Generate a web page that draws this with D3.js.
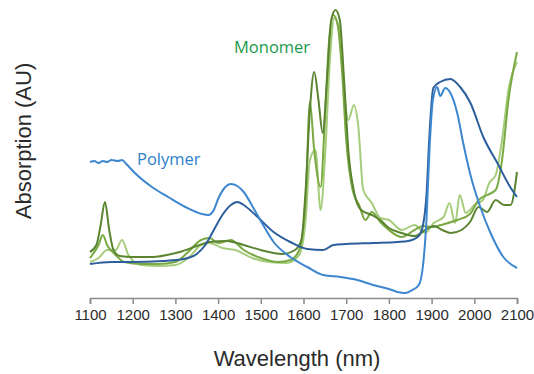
<!DOCTYPE html>
<html>
<head>
<meta charset="utf-8">
<script src="https://cdn.jsdelivr.net/npm/d3@7"></script>
<style>
  body { margin: 0; background: #fff; }
  svg { display: block; font-family: "Liberation Sans", Arial, sans-serif; }
</style>
</head>
<body>
<div id="chart"></div>
<script>
// wavelength (nm) / absorption (AU) pairs
const polymerLight = [
  [1100, 1.36], [1110, 1.37], [1120, 1.35], [1130, 1.37], [1140, 1.36], [1150, 1.38],
  [1165, 1.37], [1175, 1.38], [1185, 1.34], [1205, 1.25], [1245, 1.11], [1283, 1.01],
  [1323, 0.91], [1362, 0.84], [1377, 0.83], [1390, 0.88], [1400, 0.99], [1415, 1.10],
  [1430, 1.14], [1445, 1.12], [1460, 1.06], [1480, 0.92], [1500, 0.77], [1530, 0.56],
  [1569, 0.41], [1609, 0.31], [1646, 0.23], [1686, 0.21], [1726, 0.18], [1763, 0.13],
  [1800, 0.09], [1820, 0.06], [1838, 0.05], [1855, 0.08], [1870, 0.13], [1880, 0.33],
  [1888, 0.78], [1895, 1.48], [1903, 1.98], [1913, 2.11], [1920, 2.02], [1932, 2.10],
  [1944, 2.05], [1960, 1.85], [1974, 1.55], [1991, 1.23], [2014, 0.91], [2038, 0.65],
  [2068, 0.41], [2100, 0.30]
];
const polymerDark = [
  [1100, 0.34], [1150, 0.36], [1200, 0.36], [1270, 0.37], [1320, 0.39], [1350, 0.44],
  [1370, 0.53], [1390, 0.68], [1410, 0.83], [1430, 0.93], [1445, 0.96], [1460, 0.93],
  [1490, 0.82], [1530, 0.66], [1569, 0.56], [1609, 0.49], [1646, 0.48], [1670, 0.53],
  [1700, 0.54], [1763, 0.55], [1820, 0.56], [1845, 0.57], [1870, 0.62], [1880, 0.73],
  [1888, 1.03], [1895, 1.63], [1904, 2.10], [1920, 2.16], [1944, 2.19], [1967, 2.11],
  [1991, 1.95], [2021, 1.61], [2054, 1.35], [2084, 1.11], [2100, 1.01]
];
const monomerDark = [
  [1100, 0.46], [1115, 0.53], [1125, 0.73], [1135, 0.96], [1145, 0.68], [1155, 0.48],
  [1170, 0.42], [1200, 0.41], [1250, 0.41], [1280, 0.43], [1310, 0.46], [1350, 0.52],
  [1380, 0.56], [1420, 0.57], [1460, 0.53], [1500, 0.48], [1550, 0.44], [1580, 0.48],
  [1595, 0.58], [1605, 1.08], [1615, 1.88], [1625, 2.26], [1635, 1.98], [1645, 1.65],
  [1655, 2.18], [1665, 2.78], [1675, 2.88], [1685, 2.78], [1695, 2.18], [1705, 1.48],
  [1720, 1.03], [1735, 0.88], [1760, 0.83], [1780, 0.78], [1800, 0.70], [1830, 0.65],
  [1860, 0.62], [1885, 0.68], [1905, 0.72], [1925, 0.68], [1945, 0.65], [1970, 0.68],
  [1990, 0.76], [2010, 0.91], [2030, 0.86], [2050, 0.98], [2070, 0.93], [2085, 0.93],
  [2100, 1.26]
];
const monomerMid = [
  [1100, 0.40], [1120, 0.53], [1130, 0.63], [1140, 0.53], [1160, 0.43], [1180, 0.36],
  [1220, 0.34], [1260, 0.34], [1300, 0.36], [1330, 0.46], [1360, 0.58], [1380, 0.60],
  [1400, 0.55], [1430, 0.58], [1460, 0.48], [1500, 0.40], [1540, 0.36], [1570, 0.38],
  [1590, 0.48], [1605, 0.98], [1615, 1.96], [1625, 1.48], [1640, 1.11], [1650, 1.78],
  [1660, 2.58], [1670, 2.83], [1680, 2.73], [1690, 2.28], [1700, 1.58], [1715, 1.08],
  [1730, 0.93], [1745, 0.78], [1760, 0.86], [1780, 0.76], [1800, 0.68], [1830, 0.61],
  [1860, 0.68], [1880, 0.72], [1900, 0.71], [1930, 0.74], [1960, 0.78], [1990, 0.84],
  [2010, 0.98], [2030, 1.03], [2050, 1.08], [2065, 1.38], [2080, 1.98], [2100, 2.46]
];
const monomerLight = [
  [1100, 0.36], [1120, 0.40], [1140, 0.48], [1160, 0.48], [1175, 0.58], [1190, 0.43],
  [1220, 0.33], [1260, 0.32], [1300, 0.33], [1330, 0.40], [1360, 0.53], [1380, 0.55],
  [1410, 0.50], [1440, 0.48], [1480, 0.40], [1520, 0.36], [1560, 0.35], [1590, 0.43],
  [1605, 0.78], [1615, 1.38], [1628, 1.48], [1640, 0.88], [1650, 1.38], [1662, 2.38],
  [1672, 2.80], [1685, 2.68], [1695, 2.08], [1705, 1.78], [1718, 1.93], [1728, 1.73],
  [1740, 1.08], [1760, 0.95], [1780, 0.80], [1800, 0.78], [1830, 0.68], [1860, 0.73],
  [1885, 0.65], [1905, 0.75], [1928, 0.81], [1942, 0.95], [1955, 0.75], [1966, 1.03],
  [1980, 0.85], [2000, 0.93], [2020, 0.98], [2035, 1.15], [2050, 1.23], [2065, 1.58],
  [2080, 2.08], [2100, 2.36]
];
const xTicks = [1100, 1200, 1300, 1400, 1500, 1600, 1700, 1800, 1900, 2000, 2100];

const width = 534;
const height = 374;

const x = d3.scaleLinear().domain([1100, 2100]).range([90, 517]);
const y = d3.scaleLinear().domain([0, 2.9]).range([298, 8]);

const svg = d3.select('#chart').append('svg')
  .attr('width', width)
  .attr('height', height);

const line = d3.line()
  .x(d => x(d[0]))
  .y(d => y(d[1]))
  .curve(d3.curveMonotoneX);

const series = [
  { data: monomerLight, color: '#a6cd7c' },
  { data: monomerMid, color: '#7aa943' },
  { data: monomerDark, color: '#5a8430' },
  { data: polymerDark, color: '#2c5e9c' },
  { data: polymerLight, color: '#3d86d0' }
];

svg.selectAll('path.series')
  .data(series)
  .enter().append('path')
  .attr('class', 'series')
  .attr('fill', 'none')
  .attr('stroke', d => d.color)
  .attr('stroke-width', 2)
  .attr('stroke-linejoin', 'round')
  .attr('d', d => line(d.data));

// x axis
const xAxis = svg.append('g')
  .attr('transform', 'translate(0,' + y(0) + ')')
  .call(d3.axisBottom(x).tickValues(xTicks).tickSize(6).tickPadding(5).tickFormat(d3.format('d')));

xAxis.select('.domain').attr('stroke', '#8a8a8a').attr('stroke-width', 1.5);
xAxis.selectAll('.tick line').attr('stroke', '#8a8a8a').attr('stroke-width', 1.5);
xAxis.selectAll('.tick text')
  .attr('fill', '#2a2a2a')
  .style('font-size', '15px')
  .style('font-family', '"Liberation Sans", Arial, sans-serif');

svg.append('text')
  .attr('x', 297)
  .attr('y', 366)
  .attr('text-anchor', 'middle')
  .attr('fill', '#2a2a2a')
  .style('font-size', '22px')
  .text('Wavelength (nm)');

svg.append('text')
  .attr('transform', 'translate(31,141) rotate(-90)')
  .attr('text-anchor', 'middle')
  .attr('fill', '#2a2a2a')
  .style('font-size', '22px')
  .text('Absorption (AU)');

svg.append('text')
  .attr('x', 234)
  .attr('y', 53)
  .attr('fill', '#1b9a4c')
  .style('font-size', '16.5px')
  .style('font-family', '"Open Sans", "Noto Sans", sans-serif')
  .text('Monomer');

svg.append('text')
  .attr('x', 137)
  .attr('y', 165)
  .attr('fill', '#2f80c8')
  .style('font-size', '16.5px')
  .style('font-family', '"Open Sans", "Noto Sans", sans-serif')
  .text('Polymer');
</script>
</body>
</html>
